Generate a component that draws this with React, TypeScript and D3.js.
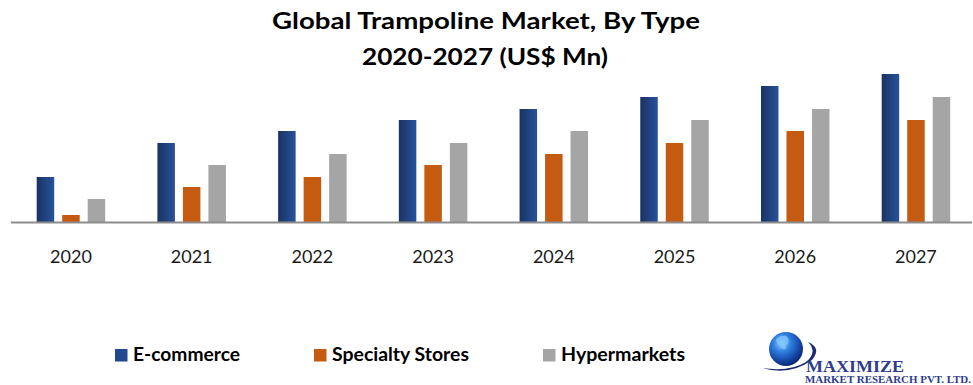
import * as d3 from "d3";

const years = ["2020", "2021", "2022", "2023", "2024", "2025", "2026", "2027"];
const seriesNames = ["E-commerce", "Specialty Stores", "Hypermarkets"];
const ecommerce = [45, 79, 91, 102, 113, 125, 136, 148];
const specialty = [7, 35, 45, 57, 68, 79, 91, 102];
const hyper = [23, 57, 68, 79, 91, 102, 113, 125];
const titleLines = ["Global Trampoline Market, By Type", "2020-2027 (US$ Mn)"];

const W = 973;
const H = 385;

const PLOT = { left: 10.6, right: 976.3, base: 222, top: 74 };
const COLORS = ["url(#blueGrad)", "#c55a11", "#a5a5a5"];
const SWATCH = ["#23488f", "#c55a11", "#a5a5a5"];
const FONT = "Lato, 'Open Sans', sans-serif";

// legend: swatch x and text width per item
const LEGEND = {
  x: [115, 314, 543],
  textW: [107, 137, 124],
  y: 349,
  box: 12.5,
  gap: 18,
};

export default function App() {
  const values = [ecommerce, specialty, hyper];

  const x0 = d3
    .scaleBand<string>()
    .domain(years)
    .range([PLOT.left, PLOT.right])
    .paddingInner(0.4325)
    .paddingOuter(0.4325 / 2);

  const x1 = d3
    .scaleBand<string>()
    .domain(seriesNames)
    .range([0, x0.bandwidth()])
    .paddingInner(0.314);

  const y = d3.scaleLinear().domain([0, 148]).range([PLOT.base, PLOT.top]);

  return (
    <svg
      width={W}
      height={H}
      style={{ position: "absolute", left: 0, top: 0, background: "#fff" }}
      xmlns="http://www.w3.org/2000/svg"
    >
      <defs>
        <linearGradient id="blueGrad" x1="0" x2="1" y1="0" y2="0">
          <stop offset="0%" stopColor="#1a3263" />
          <stop offset="100%" stopColor="#27529c" />
        </linearGradient>
        <radialGradient id="globeGrad" cx="0.38" cy="0.32" r="0.75">
          <stop offset="0%" stopColor="#9fd3ff" />
          <stop offset="35%" stopColor="#2f7fe0" />
          <stop offset="75%" stopColor="#123f9e" />
          <stop offset="100%" stopColor="#0a1f5c" />
        </radialGradient>
      </defs>

      {/* title */}
      <g fontFamily={FONT} fontWeight="bold" fill="#000" textAnchor="middle">
        <text x={486} y={29} fontSize={23} textLength={428} lengthAdjust="spacingAndGlyphs">
          {titleLines[0]}
        </text>
        <text x={485} y={65} fontSize={23} textLength={246} lengthAdjust="spacingAndGlyphs">
          {titleLines[1]}
        </text>
      </g>

      {/* bars */}
      <g>
        {years.map((yr, i) => (
          <g key={yr} transform={`translate(${x0(yr)},0)`}>
            {seriesNames.map((s, j) => (
              <rect
                key={s}
                x={x1(s)}
                y={y(values[j][i])}
                width={x1.bandwidth()}
                height={PLOT.base - y(values[j][i])}
                fill={COLORS[j]}
              />
            ))}
          </g>
        ))}
      </g>

      {/* axis */}
      <line x1={11} x2={972} y1={PLOT.base + 0.5} y2={PLOT.base + 0.5} stroke="#8c8c8c" strokeWidth={2} />
      <g fontFamily={FONT} fontSize={18} fill="#1a1a1a" textAnchor="middle">
        {years.map((yr) => (
          <text key={yr} x={(x0(yr) ?? 0) + x0.bandwidth() / 2} y={262.5}>
            {yr}
          </text>
        ))}
      </g>

      {/* legend */}
      <g fontFamily={FONT} fontWeight="bold" fontSize={18} fill="#000">
        {seriesNames.map((s, j) => (
          <g key={s}>
            <rect x={LEGEND.x[j]} y={LEGEND.y} width={LEGEND.box} height={LEGEND.box} fill={SWATCH[j]} />
            <text
              x={LEGEND.x[j] + LEGEND.gap}
              y={361}
              textLength={LEGEND.textW[j]}
              lengthAdjust="spacingAndGlyphs"
            >
              {s}
            </text>
          </g>
        ))}
      </g>

      {/* logo */}
      <g>
        <path
          d="M762,368 Q790,376 812,360 Q822,348 808,342 Q818,352 806,362 Q790,372 762,368 Z"
          fill="#1c2a6e"
        />
        <circle cx={786} cy={349} r={17} fill="url(#globeGrad)" />
        <path
          d="M776,340 q4,-5 10,-4 q4,3 2,7 q-3,2 -2,6 q-4,1 -6,-3 q-3,-2 -4,-6 Z"
          fill="#7fc6ff"
          opacity={0.8}
        />
        <text
          x={806}
          y={372}
          fontFamily="'Liberation Serif', 'DejaVu Serif', serif"
          fontWeight="bold"
          fontSize={17}
          fill="#2d3c8e"
          textLength={98}
          lengthAdjust="spacingAndGlyphs"
        >
          MAXIMIZE
        </text>
        <text
          x={805}
          y={383}
          fontFamily="'Liberation Serif', 'DejaVu Serif', serif"
          fontWeight="bold"
          fontSize={9.5}
          fill="#2d3c8e"
          textLength={166}
          lengthAdjust="spacingAndGlyphs"
        >
          MARKET RESEARCH PVT. LTD.
        </text>
      </g>
    </svg>
  );
}
